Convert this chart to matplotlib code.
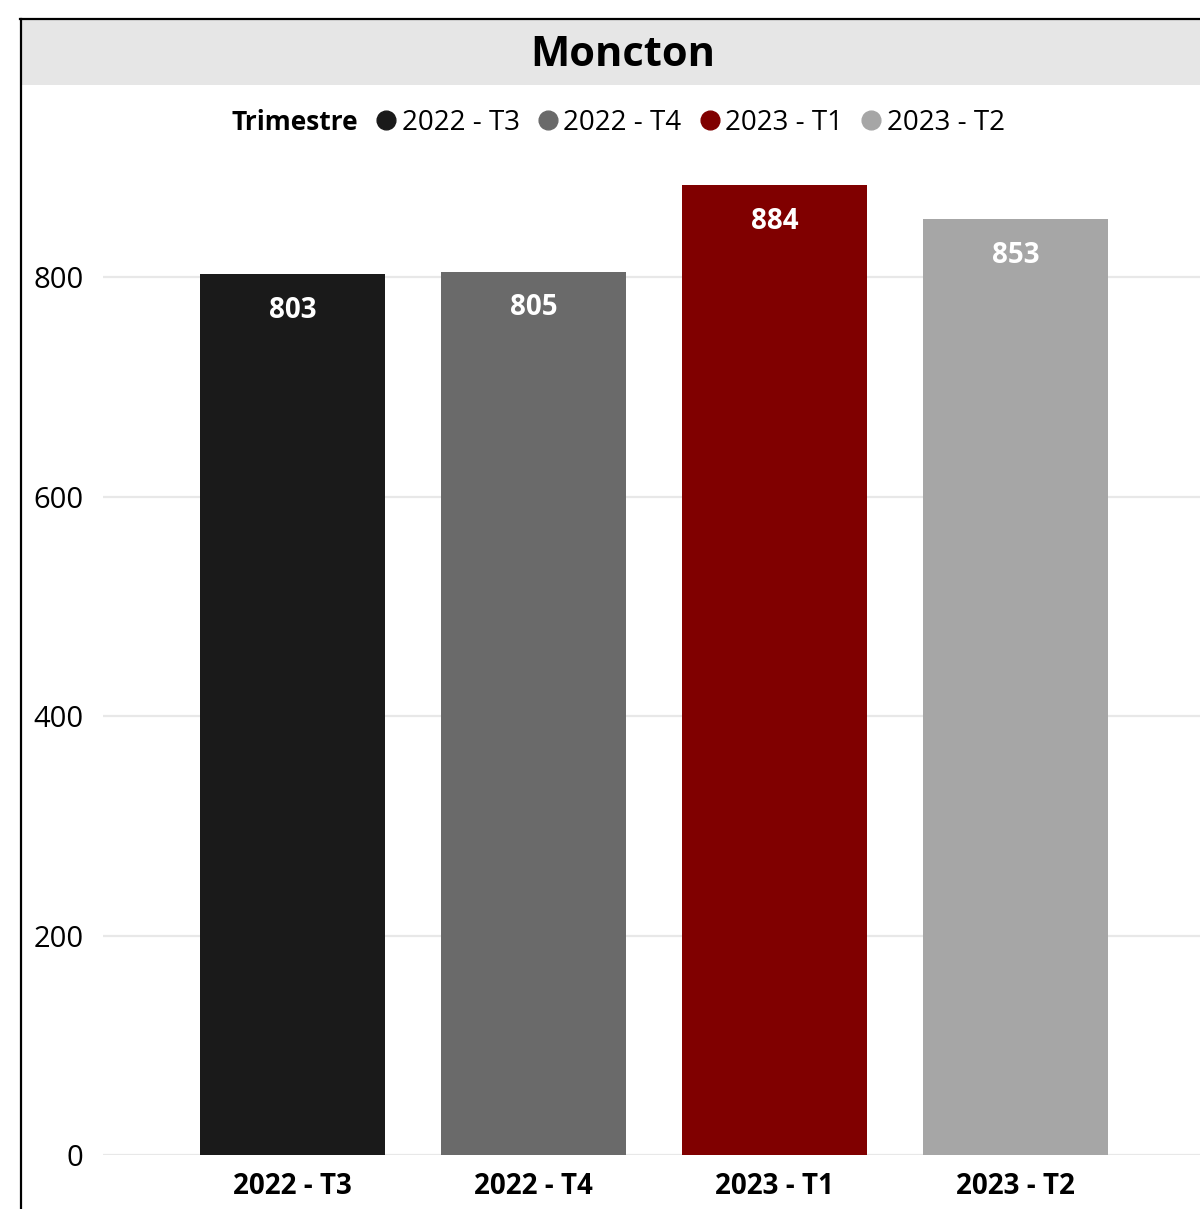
import matplotlib
matplotlib.use("Agg")
import matplotlib.pyplot as plt
from matplotlib.lines import Line2D
from matplotlib.patches import Rectangle

categories = ["2022 - T3", "2022 - T4", "2023 - T1", "2023 - T2"]
values = [803, 805, 884, 853]
colors = ["#1a1a1a", "#6a6a6a", "#800000", "#a6a6a6"]
yticks = [0, 200, 400, 600, 800]
title = "Moncton"
legend_title = "Trimestre"

plt.rcParams['font.family'] = ['Open Sans', 'DejaVu Sans']

W, H = 1200, 1209
fig = plt.figure(figsize=(W / 100, H / 100), dpi=100)

def fx(px):
    return px / W

def fy(py):
    return 1 - py / H

# title band
fig.patches.append(Rectangle((fx(21), fy(85)), fx(1200) - fx(21), fy(20) - fy(85),
                             transform=fig.transFigure, facecolor="#e6e6e6", edgecolor="none", zorder=0))
fig.lines.append(Line2D([fx(20), fx(1200)], [fy(19), fy(19)], transform=fig.transFigure, color="black", lw=1.6))
fig.lines.append(Line2D([fx(21), fx(21)], [fy(19), fy(1209)], transform=fig.transFigure, color="black", lw=1.6))
fig.text(fx(623), fy(55), title, ha="center", va="center", fontsize=30, fontweight="bold")

ax_left, ax_right = 103, 1200
ax_bottom, ax_top = 1155, 150
ax = fig.add_axes([fx(ax_left), fy(ax_bottom), fx(ax_right) - fx(ax_left), fy(ax_top) - fy(ax_bottom)])
x = list(range(len(categories)))
bars = ax.bar(x, values, width=0.768, color=colors, zorder=3)
ax.set_xlim(-0.786, 3.766)
ax.set_ylim(0, (ax_bottom - ax_top) / 1.097)
ax.set_yticks(yticks)
ax.set_yticklabels([str(t) for t in yticks], fontsize=21)
ax.set_xticks(x)
ax.set_xticklabels(categories, fontsize=20, fontweight="bold")
ax.tick_params(axis="y", length=0, pad=14)
ax.tick_params(axis="x", length=0, pad=12)
ax.grid(axis="y", color="#e8e8e8", lw=1.6, zorder=0)
for s in ax.spines.values():
    s.set_visible(False)

for xi, v in zip(x, values):
    ax.annotate(str(v), (xi, v), xytext=(0, -36), textcoords="offset pixels",
                ha="center", va="center", color="white", fontsize=20, fontweight="bold", zorder=4)

handles = [Line2D([], [], marker="o", linestyle="none", markersize=13.5, color=c) for c in colors]
fig.text(fx(232), fy(123), legend_title, ha="left", va="center", fontsize=19, fontweight="bold")
leg = fig.legend(handles, categories, loc="center left", bbox_to_anchor=(fx(378), fy(123)), ncol=4,
                 frameon=False, fontsize=20, handlelength=0.6, handletextpad=0.25, columnspacing=0.72,
                 borderpad=0, borderaxespad=0)

fig.savefig("out.png", dpi=100)
